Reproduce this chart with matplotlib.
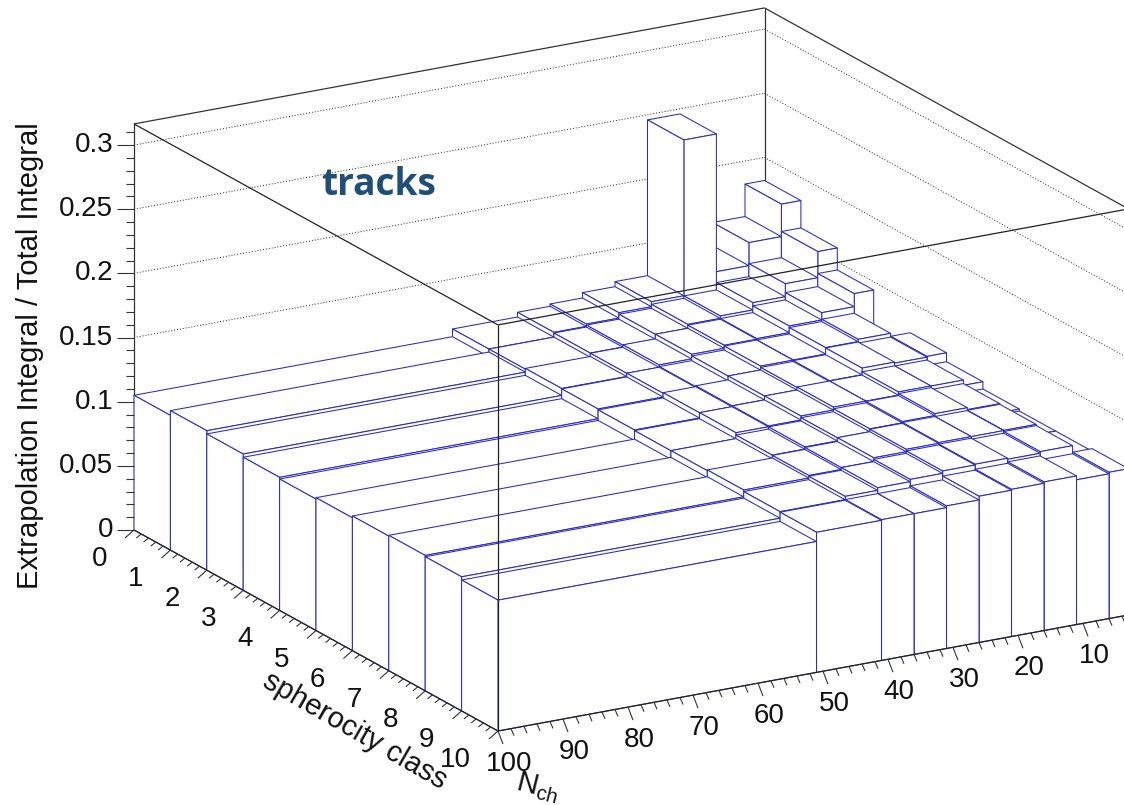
import numpy as np
import matplotlib
matplotlib.use("Agg")
import matplotlib.pyplot as plt
from matplotlib.collections import PolyCollection, LineCollection

plt.rcParams['font.family'] = ['Liberation Sans', 'DejaVu Sans']
plt.rcParams['mathtext.fontset'] = 'custom'
plt.rcParams['mathtext.rm'] = 'Liberation Sans'

# bin edges
nch_edges = [100, 51, 41, 36, 31, 26, 21, 16, 11, 6, 3]
class_edges = [0, 1, 2, 3, 4, 5, 6, 7, 8, 9, 10]

# one row per sphericity class, columns follow nch_edges
row_0 = [.1050, .1110, .1147, .1165, .1207, .1246, .2460, .1387, .1567, .1820]
row_1 = [.1087, .1110, .1142, .1157, .1195, .1226, .1245, .1302, .1403, .1607]
row_2 = [.1062, .1116, .1141, .1160, .1196, .1220, .1225, .1277, .1334, .1436]
row_3 = [.1037, .1113, .1142, .1147, .1183, .1214, .1215, .1265, .1283, .1150]
row_4 = [.1024, .1106, .1147, .1154, .1184, .1204, .1210, .1262, .1254, .1260]
row_5 = [.1035, .1101, .1148, .1154, .1185, .1208, .1208, .1233, .1232, .1191]
row_6 = [.1049, .1102, .1130, .1147, .1172, .1195, .1205, .1220, .1205, .1135]
row_7 = [.1055, .1108, .1128, .1143, .1173, .1192, .1198, .1198, .1200, .1120]
row_8 = [.1045, .1096, .1122, .1143, .1161, .1180, .1186, .1178, .1191, .1120]
row_9 = [.1020, .1092, .1097, .1097, .1111, .1140, .1147, .1158, .1128, .1140]
heights = [row_0, row_1, row_2, row_3, row_4, row_5, row_6, row_7, row_8, row_9]

z_major = [0, 0.05, 0.1, 0.15, 0.2, 0.25, 0.3]
z_labels = ['0', '0.05', '0.1', '0.15', '0.2', '0.25', '0.3']
z_top = 0.3165
nch_ticks = [100, 90, 80, 70, 60, 50, 40, 30, 20, 10]
class_ticks = [0, 1, 2, 3, 4, 5, 6, 7, 8, 9, 10]
nch_low = 3

blue = '#2a2ac4'


def proj(nch, c, z):
    # parallel projection of the ROOT lego view to pixels
    x = 134 + 36.4 * c + 6.5 * (100 - nch)
    y = 530 + 20.1 * c - 1.196 * (100 - nch) - 1283 * z
    return x, y


fig = plt.figure(figsize=(11.24, 8.05), dpi=100)
ax = fig.add_axes([0, 0, 1, 1])
ax.set_xlim(0, 1124)
ax.set_ylim(805, 0)
ax.axis('off')

# dotted grid on the two back walls
grid = []
for z in z_major[1:]:
    grid.append([proj(100, 0, z), proj(nch_low, 0, z)])
    grid.append([proj(nch_low, 0, z), proj(nch_low, 10, z)])
ax.add_collection(LineCollection(grid, colors='#222222', linewidths=0.7, linestyles=(0, (1, 2)), zorder=1))

# back box lines
back = [[proj(100, 0, 0), proj(100, 0, z_top)],
        [proj(100, 0, z_top), proj(nch_low, 0, z_top)],
        [proj(nch_low, 0, z_top), proj(nch_low, 10, z_top)],
        [proj(nch_low, 0, 0), proj(nch_low, 0, z_top)]]
ax.add_collection(LineCollection(back, colors='#333333', linewidths=0.9, zorder=1))

# bars, far ones first
polys = []
for i in range(10):
    c0, c1 = class_edges[i], class_edges[i + 1]
    for j in range(9, -1, -1):
        n_hi, n_lo = nch_edges[j], nch_edges[j + 1]
        h = heights[i][j]
        polys.append([proj(n_hi, c0, h), proj(n_lo, c0, h), proj(n_lo, c1, h), proj(n_hi, c1, h)])
        polys.append([proj(n_hi, c1, h), proj(n_lo, c1, h), proj(n_lo, c1, 0), proj(n_hi, c1, 0)])
        polys.append([proj(n_hi, c0, h), proj(n_hi, c1, h), proj(n_hi, c1, 0), proj(n_hi, c0, 0)])
ax.add_collection(PolyCollection(polys, facecolors='white', edgecolors=blue, linewidths=0.75, zorder=2))

# front box lines and axes stay on top
front = [[proj(100, 0, z_top), proj(100, 10, z_top)],
         [proj(100, 10, z_top), proj(nch_low, 10, z_top)],
         [proj(100, 10, 0), proj(100, 10, z_top)],
         [proj(100, 0, 0), proj(100, 10, 0)],
         [proj(100, 10, 0), proj(nch_low, 10, 0)]]
ax.add_collection(LineCollection(front, colors='#222222', linewidths=0.9, zorder=3))

ticks = []
for z in np.arange(0, z_top, 0.01):
    x, y = proj(100, 0, z)
    major = int(round(z * 100)) % 5 == 0
    ticks.append([(x, y), (x - (17 if major else 8), y)])
for c in np.arange(0, 10.01, 0.2):
    x, y = proj(100, c, 0)
    major = abs(c - round(c)) < 1e-6
    ticks.append([(x, y), (x - (9 if major else 5), y + (8 if major else 4))])
for n in np.arange(100, nch_low, -2):
    x, y = proj(n, 10, 0)
    major = n % 10 == 0
    ticks.append([(x, y), (x + (5 if major else 3), y + (13 if major else 7))])
ax.add_collection(LineCollection(ticks, colors='#333333', linewidths=0.8, zorder=3))

for z, lab in zip(z_major, z_labels):
    x, y = proj(100, 0, z)
    ax.text(113, y, lab, ha='right', va='center', fontsize=20, color='#111111')
for c in class_ticks:
    x, y = proj(100, c, 0)
    ax.text(x - 27, y + 29, str(c), ha='right', va='center', fontsize=20, color='#111111')
for n in nch_ticks:
    x, y = proj(n, 10, 0)
    ax.text(x + 11, y + 33, str(n), ha='center', va='center', fontsize=20, color='#111111')

ax.text(30, 356, 'Extrapolation Integral / Total Integral', rotation=90, ha='center', va='center',
        fontsize=21, color='#111111')
ax.text(355, 731, 'spherocity class', rotation=-30, rotation_mode='anchor', ha='center', va='center',
        fontsize=21, color='#111111')
ax.text(538, 787, r'N$_{\mathrm{ch}}$', rotation=-14, ha='center', va='center', fontsize=21, color='#111111')
ax.text(321, 185, 'tracks', ha='left', va='center', fontsize=26.7, fontweight='bold', family='Open Sans',
        color='#1f4e79')

fig.savefig('out.png', dpi=100)
